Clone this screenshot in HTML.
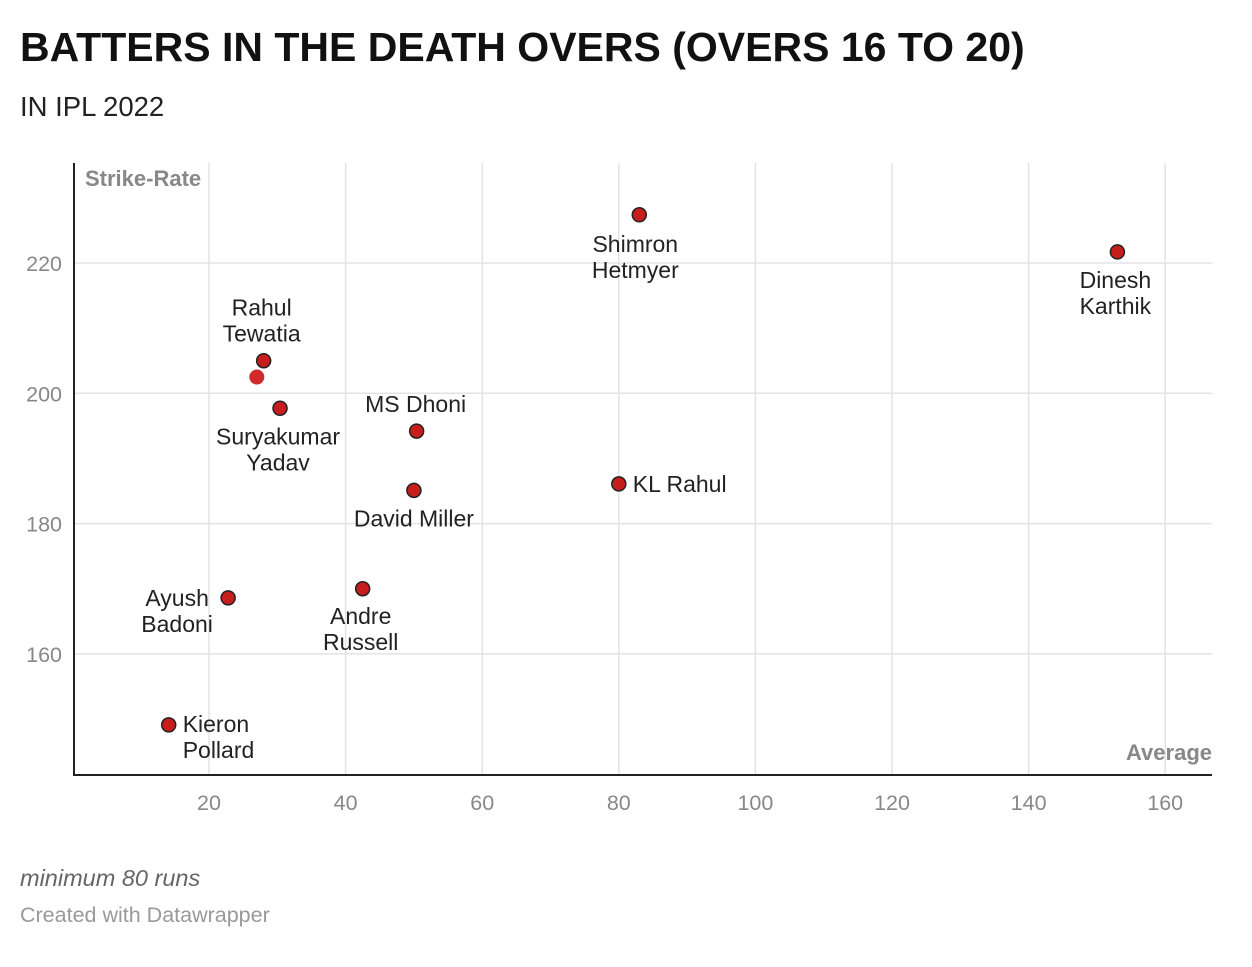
<!DOCTYPE html>
<html><head><meta charset="utf-8"><style>
body{margin:0;width:1252px;height:962px;background:#fff;overflow:hidden;font-family:"Liberation Sans",sans-serif}
</style></head><body>
<svg width="1252" height="962" font-family="Liberation Sans, sans-serif">
<text x="20" y="61" font-size="41" font-weight="bold" fill="#111">BATTERS IN THE DEATH OVERS (OVERS 16 TO 20)</text>
<text x="20" y="116" font-size="27.5" fill="#222">IN IPL 2022</text>
<g id="grid"></g><g id="marks"></g>
<text x="85" y="186" font-size="22" font-weight="bold" fill="#888">Strike-Rate</text>
<text x="1212" y="760" text-anchor="end" font-size="22" font-weight="bold" fill="#888">Average</text>
<text x="20" y="886" font-size="23.5" font-style="italic" fill="#666">minimum 80 runs</text>
<text x="20" y="922" font-size="21.5" fill="#999">Created with Datawrapper</text>
</svg>
<script>
const names=["Shimron|Hetmyer","Dinesh|Karthik","Rahul|Tewatia","","Suryakumar|Yadav","MS Dhoni","David Miller","KL Rahul","Andre|Russell","Ayush|Badoni","Kieron|Pollard"];
const averages=[83.0,153.0,28.0,27.0,30.4,50.4,50.0,80.0,42.5,22.8,14.1];
const strikeRates=[227.4,221.7,205.0,202.5,197.7,194.2,185.1,186.1,170.0,168.6,149.1];
const xTicks=[20,40,60,80,100,120,140,160];
const yTicks=[160,180,200,220];
const labelPos=[[-4,37,"middle"],[-2,36,"middle"],[-2,-45,"middle"],null,[-2,36,"middle"],[-1,-19,"middle"],[0,36,"middle"],[14,8,"start"],[-2,35,"middle"],[-51,8,"middle"],[14,7,"start"]];
const L=74,R=1212,T=163,B=775;
const x=v=>72.4+v*6.83, y=v=>263-(v-220)*6.515;
const NS="http://www.w3.org/2000/svg";
const grid=document.getElementById('grid'),marks=document.getElementById('marks');
function mk(tag,attrs,parent){const e=document.createElementNS(NS,tag);for(const k in attrs)e.setAttribute(k,attrs[k]);parent.appendChild(e);return e;}
xTicks.forEach(t=>{
  const l=mk('line',{x1:x(t),x2:x(t),y1:T,y2:B,stroke:'#e3e3e3','stroke-width':1.5},grid);
  
  
  const tx=mk('text',{x:x(t),y:810,'text-anchor':'middle','font-size':21.5,fill:'#888'},grid);tx.textContent=t;
  
  
});
yTicks.forEach(t=>{
  const l=mk('line',{x1:L,x2:R,y1:y(t),y2:y(t),stroke:'#e3e3e3','stroke-width':1.5},grid);
  
  
  const tx=mk('text',{x:62,y:y(t)+8,'text-anchor':'end','font-size':21.5,fill:'#888'},grid);tx.textContent=t;
  
  
});
const ax=mk('path',{d:`M${L} ${T}V${B}H${R}`,fill:'none',stroke:'#222','stroke-width':2},grid);


averages.forEach((a,i)=>{
  const px=x(a),py=y(strikeRates[i]);
  const c=names[i]?mk('circle',{cx:px,cy:py,r:7,fill:'#c71e1d',stroke:'#222','stroke-width':1.5},marks):mk('circle',{cx:px,cy:py,r:7.5,fill:'#d22a2a'},marks);
  
  
  if(!names[i])return;
  const [dx,dy,an]=labelPos[i];
  const tx=mk('text',{x:px+dx,y:py+dy,'text-anchor':an,'font-size':23,fill:'#222'},marks);
  
  
  names[i].split('|').forEach((s,j)=>{const ts=mk('tspan',{x:px+dx,dy:j?26:0},tx);ts.textContent=s;});
});
</script>
</body></html>
